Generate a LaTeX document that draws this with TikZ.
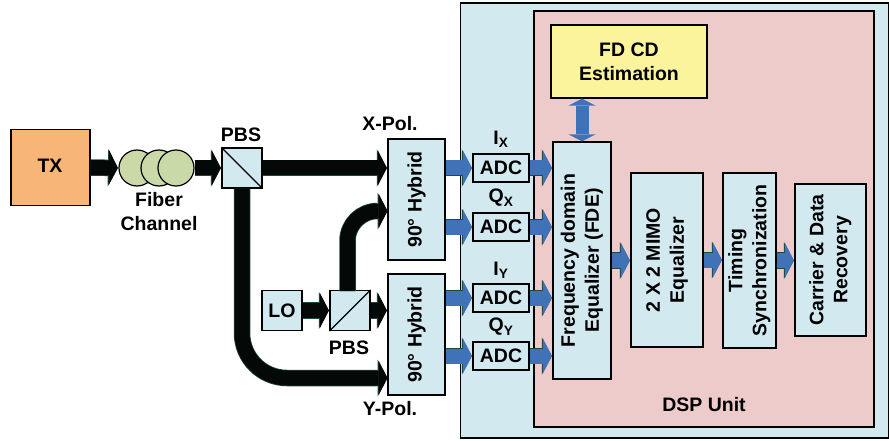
\documentclass[tikz,border=0pt]{standalone}
\usepackage{fontspec}
\setmainfont{Liberation Sans}
\usetikzlibrary{arrows.meta}
\definecolor{txorange}{HTML}{F8B578}
\definecolor{fibergreen}{HTML}{CAD9A8}
\definecolor{boxblue}{HTML}{D2E9F0}
\definecolor{dsppink}{HTML}{EDCBCA}
\definecolor{fdyellow}{HTML}{FBF49D}
\definecolor{arrowblue}{HTML}{4072B8}
\definecolor{arrowedge}{HTML}{1D4A3C}
\definecolor{arrowblack}{HTML}{040806}
\newcommand{\turned}[2]{\rotatebox{90}{\begin{tabular}{@{}c@{}}#1\\#2\end{tabular}}}
\tikzset{
  box/.style={draw=black, line width=1.2pt, fill=boxblue, inner sep=0pt},
  tag/.style={inner sep=0pt, align=center},
  blockarrow/.style={preaction={draw=arrowedge, line width=16.5pt, -{Triangle[length=10pt,width=37pt,line width=0pt]}},
    line width=15pt, -{Triangle[length=9pt,width=35pt,line width=0pt]}, shorten >=.5pt},
  blackarrow/.style={blockarrow, draw=arrowblack},
  bluearrow/.style={blockarrow, draw=arrowblue},
}
\begin{document}
\begin{tikzpicture}[x=1pt, y=-1pt, every node/.style={font=\fontsize{19.5}{24}\selectfont\bfseries}]
  \useasboundingbox (0,0) rectangle (889,441);

  % Panels
  \node[box, fill=boxblue, minimum width=428pt, minimum height=435pt] (dspouter) at (674.5,220.5) {};
  \node[box, fill=dsppink, minimum width=340pt, minimum height=416pt] (dspunit) at (704,219) {};
  \node[tag] (dsplabel) at (704,405) {DSP Unit};

  % Front end
  \node[box, fill=txorange, minimum width=79pt, minimum height=76pt] (tx) at (50.5,167.5) {};
  \node[tag] (txlabel) at (50,166) {TX};
  \node[circle, draw=black, line width=1.2pt, fill=fibergreen, minimum size=36pt, inner sep=0pt] (fibera) at (137,168) {};
  \node[circle, draw=black, line width=1.2pt, fill=fibergreen, minimum size=36pt, inner sep=0pt] (fiberb) at (159,168) {};
  \node[circle, draw=black, line width=1.2pt, fill=fibergreen, minimum size=36pt, inner sep=0pt] (fiberc) at (176,168) {};
  \node[tag] (fiberlabel) at (159,212) {Fiber\\Channel};
  \node[box, minimum size=40pt] (pbsa) at (242,168) {};
  \node[tag] (pbsalabel) at (241,135) {PBS};
  \node[box, minimum size=40pt] (lo) at (282,310.5) {LO};
  \node[box, minimum size=40pt] (pbsb) at (350,310.5) {};
  \node[tag] (pbsblabel) at (349,348) {PBS};
  \draw[line width=1.2pt] (pbsa.north west) -- (pbsa.south east);
  \draw[line width=1.2pt] (pbsb.south west) -- (pbsb.north east);

  % Hybrids
  \node[box, minimum width=57pt, minimum height=121pt] (hybx) at (416.5,199.5) {\rotatebox{90}{90° Hybrid}};
  \node[box, minimum width=57pt, minimum height=121pt] (hyby) at (416.5,334.5) {\rotatebox{90}{90° Hybrid}};
  \node[tag] (xpol) at (390,124) {X-Pol.};
  \node[tag] (ypol) at (390,409) {Y-Pol.};
  \coordinate (xin) at (388,211);
  \coordinate (yin) at (388,378);
  \coordinate (lotop) at (347.5,291);

  % ADCs
  \node[box, minimum width=56pt, minimum height=28pt] (adcix) at (501,168) {ADC};
  \node[box, minimum width=56pt, minimum height=28pt] (adcqx) at (501,227) {ADC};
  \node[box, minimum width=56pt, minimum height=28pt] (adciy) at (501,298) {ADC};
  \node[box, minimum width=56pt, minimum height=28pt] (adcqy) at (501,356) {ADC};
  \node[tag] (ixlabel) at (501,139) {I\textsubscript{X}};
  \node[tag] (qxlabel) at (501,198) {Q\textsubscript{X}};
  \node[tag] (iylabel) at (501,270) {I\textsubscript{Y}};
  \node[tag] (qylabel) at (501,327) {Q\textsubscript{Y}};

  % DSP blocks
  \node[box, fill=fdyellow, minimum width=156pt, minimum height=73pt, align=center] (fdcd) at (629,61.5) {FD CD\\Estimation};
  \node[box, minimum width=58pt, minimum height=237pt] (fde) at (582,260.5) {\turned{Frequency domain}{Equalizer (FDE)}};
  \node[box, minimum width=72pt, minimum height=174pt] (mimo) at (667,260) {\turned{2 X 2 MIMO}{Equalizer}};
  \node[box, minimum width=53pt, minimum height=175pt] (timing) at (749.5,260.5) {\turned{Timing}{Synchronization}};
  \node[box, minimum width=71pt, minimum height=152pt] (carrier) at (830.5,260) {\turned{Carrier \& Data}{Recovery}};

  % Black arrows
  \draw[blackarrow] (tx.east) -- (fibera.west);
  \draw[blackarrow] (fiberc.east) -- (pbsa.west);
  \draw[blackarrow] (pbsa.east) -- (pbsa -| hybx.west);
  \draw[blackarrow, rounded corners=45pt] (pbsa.south) |- (yin);
  \draw[blackarrow] (lo.east) -- (pbsb.west);
  \draw[blackarrow] (pbsb.east) -- (pbsb -| hyby.west);
  \draw[blackarrow, rounded corners=30pt] (lotop) |- (xin);

  % Blue arrows
  \foreach \adc/\hyb in {adcix/hybx, adcqx/hybx, adciy/hyby, adcqy/hyby} {
    \draw[bluearrow] (\adc -| \hyb.east) -- (\adc.west);
    \draw[bluearrow] (\adc.east) -- (\adc -| fde.west);
  }
  \draw[bluearrow] (fde.east) -- (fde.east -| mimo.west);
  \draw[bluearrow] (mimo.east) -- (mimo.east -| timing.west);
  \draw[bluearrow] (timing.east) -- (timing.east -| carrier.west);
  \draw[draw=arrowblue, line width=13pt, {Triangle[length=7pt,width=27pt,line width=0pt]}-{Triangle[length=7pt,width=27pt,line width=0pt]}] (fdcd.south -| fde) -- (fde.north);
\end{tikzpicture}
\end{document}
